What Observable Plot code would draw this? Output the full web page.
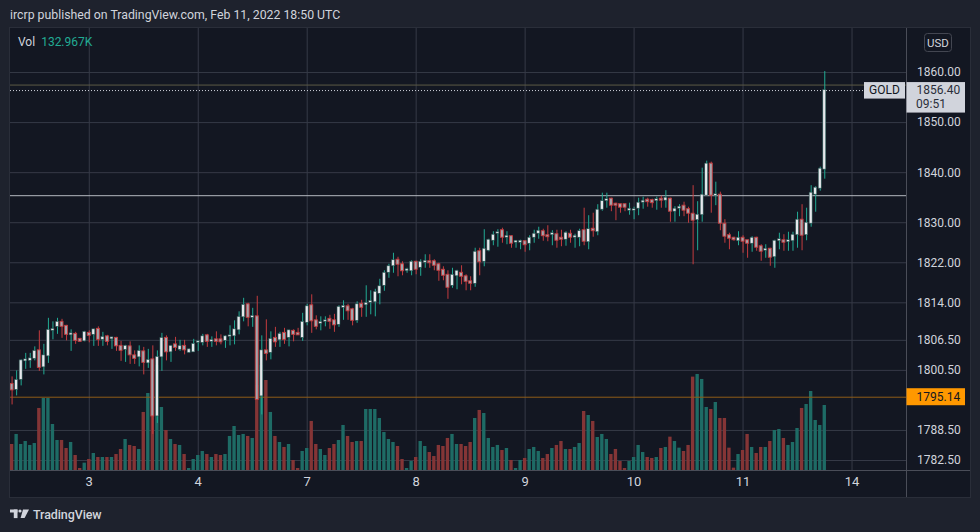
<!DOCTYPE html>
<html>
<head>
<meta charset="utf-8">
<script src="https://cdn.jsdelivr.net/npm/d3@7"></script>
<script src="https://cdn.jsdelivr.net/npm/@observablehq/plot@0.6"></script>
<style>
  html, body { margin: 0; padding: 0; }
  body { width: 980px; height: 532px; background: #1e222d; position: relative; overflow: hidden; font-family: Roboto, "Noto Sans", sans-serif; }
  #hdr { position: absolute; left: 10px; top: 6px; font-size: 12.3px; line-height: 18px; color: #d1d4dc; white-space: nowrap; }
  #chart { position: absolute; left: 10px; top: 28px; }
  #chart svg { display: block; outline: 1px solid #2a2e39; }
  #ftr { position: absolute; left: 10px; top: 506px; height: 16px; display: flex; align-items: center; color: #d1d4dc; }
  #ftr span { font-size: 12.5px; font-weight: 500; margin-left: 4px; letter-spacing: -0.1px; }
</style>
</head>
<body>
<div id="hdr">ircrp published on TradingView.com, Feb 11, 2022 18:50 UTC</div>
<div id="chart"></div>
<div id="ftr">
  <svg width="19" height="10" viewBox="0 0 19 10"><rect x="0" y="0.5" width="7.5" height="3" fill="#d1d4dc"/><rect x="3.8" y="0.5" width="3.7" height="8.6" fill="#d1d4dc"/><circle cx="10" cy="2" r="1.6" fill="#d1d4dc"/><polygon points="13,0.5 19,0.5 14.6,9.1 10.6,9.1" fill="#d1d4dc"/></svg>
  <span>TradingView</span>
</div>
<script>
// ---- data (hourly candles, GOLD) ----
const opens = [1797.7,1796.7,1798.7,1802.4,1802.5,1802.9,1804.4,1801.2,1803.4,1808.5,
1809.3,1810.1,1809.3,1807.6,1807.7,1806.7,1806.4,1807.9,1807.7,1808.7,
1806.7,1807.2,1806.8,1806.9,1805.3,1804.7,1805.2,1803.4,1803.2,1804.2,
1802.0,1802.6,1791.4,1803.2,1806.9,1804.2,1805.6,1804.7,1805.3,1804.1,
1804.2,1806.1,1806.1,1807.4,1806.3,1806.6,1806.6,1806.5,1807.3,1807.4,
1808.6,1811.2,1813.6,1811.1,1811.2,1795.4,1804.4,1804.1,1806.9,1806.6,
1807.9,1807.1,1808.3,1807.9,1807.1,1810.1,1813.4,1810.4,1809.9,1810.3,
1810.7,1810.4,1809.7,1813.1,1813.2,1812.6,1810.5,1813.7,1813.6,1814.1,
1814.2,1815.9,1817.5,1820.1,1821.4,1822.5,1821.6,1820.4,1820.4,1822.1,
1821.1,1822.1,1822.2,1822.2,1821.6,1820.5,1819.5,1817.5,1819.4,1819.9,
1819.2,1818.2,1817.9,1824.2,1822.3,1824.5,1826.5,1827.9,1828.4,1827.1,
1827.2,1826.1,1826.1,1826.2,1825.9,1827.1,1827.9,1828.2,1827.4,1827.6,
1827.6,1826.9,1826.7,1827.7,1827.1,1827.1,1828.4,1826.2,1828.7,1828.2,
1832.7,1834.4,1834.7,1833.7,1833.6,1833.6,1832.5,1832.5,1832.9,1834.1,
1834.5,1834.4,1834.4,1834.7,1834.5,1834.7,1832.3,1832.9,1833.3,1832.6,
1831.7,1830.6,1831.6,1835.5,1841.7,1835.4,1835.5,1829.7,1827.4,1826.9,
1826.4,1826.9,1826.4,1825.9,1826.9,1825.2,1824.5,1824.7,1823.2,1826.4,
1826.4,1826.2,1826.4,1827.6,1830.5,1827.6,1829.9,1835.7,1836.9,1840.7];
const highs = [1799.2,1800.4,1802.6,1803.9,1803.9,1805.2,1808.4,1805.7,1810.9,1810.2,
1810.9,1810.7,1809.5,1808.6,1808.1,1806.9,1808.3,1808.4,1808.7,1809.2,
1808.1,1807.5,1807.1,1807.1,1806.3,1805.5,1806.2,1804.4,1805.4,1805.1,
1804.7,1805.4,1804.4,1807.9,1807.4,1805.5,1807.1,1806.5,1806.5,1804.8,
1806.7,1806.4,1807.7,1807.7,1807.2,1808.2,1807.6,1807.4,1809.4,1810.4,
1812.2,1814.9,1813.9,1812.9,1815.3,1807.4,1810.6,1808.2,1809.1,1808.1,
1808.9,1808.5,1808.6,1808.9,1811.9,1813.7,1815.6,1811.4,1811.2,1811.2,
1811.5,1811.7,1813.4,1814.4,1813.7,1812.9,1814.2,1814.5,1817.4,1816.4,
1816.7,1818.7,1820.4,1821.7,1823.9,1823.1,1822.2,1820.9,1822.4,1822.3,
1822.6,1823.6,1823.6,1822.6,1821.9,1821.2,1820.4,1820.9,1820.5,1821.4,
1819.6,1819.2,1824.9,1824.9,1828.6,1826.7,1828.2,1828.6,1828.9,1828.2,
1827.4,1826.4,1826.5,1826.4,1827.4,1828.5,1829.1,1828.7,1829.4,1828.4,
1828.5,1828.5,1828.2,1828.5,1827.7,1828.7,1832.9,1831.4,1831.9,1833.6,
1835.9,1835.9,1834.9,1833.9,1833.7,1833.7,1833.9,1833.1,1834.9,1835.1,
1834.9,1834.7,1835.1,1835.3,1836.4,1834.9,1833.2,1833.6,1834.1,1833.1,
1837.4,1834.2,1840.9,1842.3,1842.1,1838.1,1836.1,1830.6,1827.9,1827.1,
1828.2,1827.4,1826.4,1827.2,1827.1,1825.6,1825.6,1824.9,1826.5,1827.9,
1827.6,1828.1,1828.1,1832.1,1833.6,1832.9,1837.4,1837.2,1841.1,1860.2];
const lows = [1793.6,1795.4,1797.4,1800.7,1800.9,1802.4,1800.3,1799.6,1801.9,1806.6,
1807.7,1806.9,1806.4,1804.3,1805.7,1806.2,1806.2,1806.0,1805.3,1805.3,
1805.3,1805.4,1804.7,1804.3,1802.3,1802.1,1801.7,1801.7,1801.2,1799.6,
1800.9,1787.7,1789.9,1800.3,1802.4,1802.1,1804.3,1804.3,1803.6,1803.9,
1804.1,1804.3,1805.4,1805.1,1805.1,1805.4,1805.6,1804.9,1805.4,1805.6,
1807.6,1810.2,1809.2,1809.1,1794.5,1791.6,1802.4,1802.6,1805.1,1805.1,
1805.7,1805.2,1806.2,1807.5,1806.3,1809.4,1807.9,1808.6,1808.4,1809.2,
1808.7,1808.1,1809.1,1810.5,1810.5,1809.4,1809.9,1811.1,1811.1,1811.6,
1811.2,1813.6,1816.3,1818.9,1819.9,1819.2,1819.4,1819.9,1819.4,1819.6,
1819.3,1820.9,1820.9,1820.4,1818.3,1818.4,1814.7,1816.9,1816.6,1817.6,
1816.4,1816.4,1817.1,1819.4,1821.2,1824.2,1825.4,1825.1,1825.9,1825.6,
1824.9,1824.9,1824.6,1824.1,1824.4,1825.9,1826.7,1826.3,1826.2,1825.4,
1824.9,1825.2,1825.3,1825.9,1824.9,1825.2,1825.4,1824.6,1827.1,1827.4,
1832.3,1832.9,1832.2,1830.4,1831.9,1832.2,1831.5,1830.6,1831.4,1832.7,
1833.1,1832.9,1832.5,1832.9,1832.9,1830.1,1830.1,1831.2,1831.2,1829.9,
1821.6,1824.4,1830.1,1835.4,1831.9,1833.4,1828.4,1825.9,1824.6,1826.3,
1825.4,1823.9,1822.9,1824.1,1824.3,1822.3,1822.9,1821.3,1820.9,1824.6,
1824.3,1824.3,1824.3,1824.9,1824.4,1826.4,1829.1,1832.1,1836.3,1838.7];
const closes = [1796.6,1798.5,1802.4,1802.6,1802.8,1804.3,1801.1,1803.4,1808.5,1808.7,
1810.1,1809.3,1807.7,1807.8,1806.5,1806.3,1808.1,1807.5,1808.6,1806.7,
1807.1,1806.3,1807.0,1805.4,1804.5,1805.3,1803.6,1802.9,1804.3,1802.1,
1802.5,1791.4,1803.1,1806.9,1804.2,1805.3,1805.1,1805.3,1804.6,1804.6,
1805.7,1806.2,1807.2,1806.3,1806.5,1806.3,1806.2,1807.2,1807.4,1808.6,
1811.1,1813.5,1811.1,1811.3,1794.7,1804.4,1803.9,1806.7,1806.2,1807.7,
1806.7,1808.4,1807.7,1807.6,1810.1,1813.2,1810.4,1809.3,1810.1,1810.4,
1810.3,1809.6,1813.1,1813.3,1812.4,1810.5,1813.6,1813.1,1813.9,1814.3,
1816.1,1817.2,1819.9,1821.2,1822.4,1821.7,1820.4,1820.6,1822.1,1820.7,
1822.1,1822.3,1822.0,1821.5,1820.5,1819.5,1817.1,1819.5,1820.3,1819.3,
1818.3,1817.9,1824.1,1822.2,1824.7,1826.5,1827.5,1828.0,1827.1,1827.3,
1825.9,1826.3,1826.3,1825.6,1826.9,1827.7,1828.3,1827.4,1827.2,1827.8,
1826.5,1826.7,1827.9,1827.1,1827.3,1828.2,1826.3,1828.6,1828.4,1832.5,
1834.2,1834.6,1833.5,1833.5,1833.1,1833.1,1832.7,1832.6,1833.9,1834.3,
1834.2,1834.0,1834.6,1834.5,1834.9,1832.3,1832.7,1833.1,1832.5,1831.9,
1830.5,1831.5,1835.5,1841.7,1835.5,1835.6,1829.9,1827.3,1826.9,1826.6,
1826.9,1826.3,1825.9,1826.9,1825.1,1824.3,1824.7,1823.1,1826.3,1826.6,
1826.1,1826.4,1827.5,1830.5,1827.5,1829.9,1835.9,1836.9,1840.7,1856.4];
// volume in thousands
const volumes = [53.2,73.7,53.2,59.3,51.2,55.2,126.9,147.3,147.3,94.1,
61.4,61.4,45.0,57.3,30.7,4.1,15.0,22.5,34.8,26.6,
26.6,26.6,26.6,32.7,43.0,63.4,51.2,49.1,43.0,118.7,
157.5,163.7,214.8,128.9,81.8,63.4,53.2,51.2,32.7,4.1,
22.5,30.7,38.9,32.7,26.6,32.7,30.7,32.7,69.6,90.0,
71.6,73.7,69.6,65.5,173.9,214.8,184.1,118.7,69.6,57.3,
47.1,53.2,20.5,4.1,38.9,45.0,100.3,53.2,43.0,30.7,
45.0,53.2,61.4,92.1,69.6,57.3,59.3,59.3,124.8,124.8,
124.8,106.4,77.7,63.4,57.3,49.1,22.5,4.1,18.4,26.6,
59.3,49.1,36.8,28.6,51.2,49.1,65.5,73.7,53.2,53.2,
49.1,57.3,106.4,122.8,116.6,65.5,47.1,51.2,40.9,45.0,
20.5,4.1,20.5,24.6,43.0,47.1,38.9,24.6,32.7,45.0,
51.2,59.3,43.0,43.0,47.1,55.2,120.7,112.5,100.3,67.5,
73.7,63.4,32.7,43.0,18.4,4.1,18.4,26.6,51.2,36.8,
26.6,24.6,26.6,45.0,47.1,68.2,59.3,45.7,38.9,51.2,
191.0,196.4,186.2,128.9,124.8,139.1,106.4,106.4,45.7,4.8,
32.7,40.9,73.7,47.1,34.8,47.1,47.1,59.3,81.8,83.9,
65.5,51.2,57.3,85.9,126.9,135.0,161.6,102.3,92.1,132.967];

const dayTickIndex = [17, 41, 65, 89, 113, 137, 161, 185];
const dayTickLabels = ["3", "4", "7", "8", "9", "10", "11", "14"];
const priceTicks = [1860, 1850, 1840, 1830, 1822, 1814, 1806.5, 1800.5, 1788.5, 1782.5];
const symbol = "GOLD";
const currency = "USD";
const lastPrice = 1856.4;
const countdown = "09:51";
const alertPrice = 1795.14;
const drawnLevel = 1835.4;
const highLevel = 1857.5;
const volLabel = "132.967K";

// ---- build table ----
const bars = opens.map((o, i) => ({ i, o, h: highs[i], l: lows[i], c: closes[i], v: volumes[i], up: closes[i] >= o }));

const yLo = 1780.5, yHi = 1868.8;
const xDomain = [-0.35, 197];
const volToPrice = d3.scaleLinear().domain([0, 904]).range([yLo, yHi]);

const upWick = "#22ab94", downWick = "#c43c3f";
const upBody = "#e6e8ec", downBody = "#a3a6ad";
const volUp = "#1e6b65", volDown = "#843536";
const grid = "#363a47";

const W = 960, H = 469;
const chart = Plot.plot({
  width: W, height: H,
  marginLeft: 0, marginRight: 64, marginTop: 0, marginBottom: 27,
  x: { type: "linear", domain: xDomain, axis: null },
  y: { domain: [yLo, yHi], axis: null },
  color: { type: "identity" },
  style: { background: "#131722", color: "#d1d4dc", fontFamily: "Roboto, 'Noto Sans', sans-serif", overflow: "visible" },
  marks: [
    Plot.ruleY(priceTicks, { stroke: grid }),
    Plot.ruleX(dayTickIndex, { stroke: grid }),
    Plot.rect(bars, { x1: d => d.i - 0.37, x2: d => d.i + 0.37, y1: yLo, y2: d => volToPrice(d.v), fill: d => d.up ? volUp : volDown }),
    Plot.ruleY([highLevel], { stroke: "#5d5a45" }),
    Plot.ruleY([drawnLevel], { stroke: "#b6b9c1" }),
    Plot.ruleY([alertPrice], { stroke: "#8f5d17" }),
    Plot.ruleY([lastPrice], { stroke: "#d1d4dc", strokeDasharray: "1,2" }),
    Plot.ruleX(bars, { x: "i", y1: "l", y2: "h", stroke: d => d.up ? upWick : downWick, strokeWidth: 1 }),
    Plot.rect(bars, {
      x1: d => d.i - 0.33, x2: d => d.i + 0.33,
      y1: d => Math.min(d.o, d.c), y2: d => Math.max(d.o, d.c),
      fill: d => d.up ? upBody : downBody,
      stroke: d => d.up ? "#24504d" : downWick,
      strokeWidth: d => d.up ? 0.6 : 0.9,
      insetTop: -0.5, insetBottom: -0.5
    }),
    Plot.axisY({ anchor: "right", ticks: priceTicks, tickSize: 0, tickPadding: 10.5, tickFormat: d => d.toFixed(2), fontSize: 12 }),
    Plot.axisX({ anchor: "bottom", ticks: dayTickIndex, tickSize: 0, tickPadding: 6, fontSize: 13, label: null,
                 tickFormat: d => dayTickLabels[dayTickIndex.indexOf(d)] })
  ]
});
document.getElementById("chart").appendChild(chart);

// ---- chart chrome: separators and price labels ----
const ys = chart.scale("y");
const yp = v => ys.apply(v);
const xr = chart.scale("x").range; // [0, 896]
const plotRight = xr[1], plotBottom = H - 27;
const svg = d3.select(chart);
const g = svg.append("g").attr("font-family", "Roboto, 'Noto Sans', sans-serif").attr("text-anchor", "start");
g.append("line").attr("x1", 0).attr("x2", W).attr("y1", plotBottom + 0.5).attr("y2", plotBottom + 0.5).attr("stroke", "#4a4d58");
g.append("line").attr("x1", plotRight + 0.5).attr("x2", plotRight + 0.5).attr("y1", 0).attr("y2", H).attr("stroke", "#4a4d58");

// GOLD tag + last price box
const yl = yp(lastPrice);
g.append("rect").attr("x", plotRight - 42).attr("y", yl - 8).attr("width", 41).attr("height", 16.5).attr("fill", "#d1d4dc");
g.append("text").attr("x", plotRight - 21.5).attr("y", yl).attr("dy", "0.35em").attr("text-anchor", "middle")
  .attr("font-size", 12).attr("fill", "#131722").text(symbol);
g.append("rect").attr("x", plotRight + 0.5).attr("y", yl - 8).attr("width", 58.5).attr("height", 30.5).attr("fill", "#d1d4dc");
g.append("text").attr("x", plotRight + 10.5).attr("y", yl).attr("dy", "0.35em").attr("font-size", 12).attr("fill", "#2a2e39").text(lastPrice.toFixed(2));
g.append("text").attr("x", plotRight + 10).attr("y", yl + 14).attr("dy", "0.35em").attr("font-size", 12).attr("fill", "#2a2e39").text(countdown);

// alert price label
const ya = yp(alertPrice);
g.append("rect").attr("x", plotRight + 0.5).attr("y", ya - 8.5).attr("width", 58.5).attr("height", 17).attr("fill", "#ff9800");
g.append("text").attr("x", plotRight + 10.5).attr("y", ya).attr("dy", "0.35em").attr("font-size", 12).attr("fill", "#131722").text(alertPrice.toFixed(2));

// currency button
g.append("rect").attr("x", plotRight + 18.5).attr("y", 5.5).attr("width", 27).attr("height", 18).attr("rx", 3)
  .attr("fill", "none").attr("stroke", "#434651");
g.append("text").attr("x", plotRight + 32).attr("y", 14.5).attr("dy", "0.35em").attr("text-anchor", "middle")
  .attr("font-size", 11.5).attr("fill", "#d1d4dc").text(currency);

// volume legend
const vt = g.append("text").attr("x", 8).attr("y", 14).attr("dy", "0.35em").attr("font-size", 12);
vt.append("tspan").attr("fill", "#d1d4dc").text("Vol");
vt.append("tspan").attr("dx", 6).attr("fill", "#22ab94").text(volLabel);
</script>
</body>
</html>
